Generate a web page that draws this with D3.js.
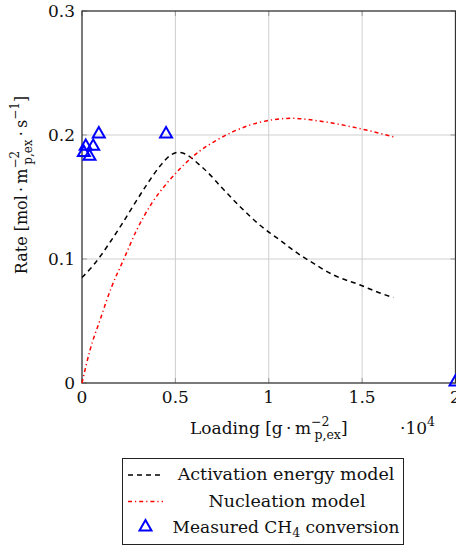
<!DOCTYPE html>
<html>
<head>
<meta charset="utf-8">
<script src="https://cdn.jsdelivr.net/npm/d3@7"></script>
<style>
  body { margin: 0; background: #fff; }
  text { font-family: "DejaVu Serif", serif; fill: #111; }
</style>
</head>
<body>
<script>
// loading in units of 1e4 g/m^2, rate in mol/(m^2 s)
var activationX = [0, 0.061, 0.097, 0.15, 0.213, 0.275, 0.347, 0.418, 0.472, 0.517, 0.651, 0.758, 0.848, 0.955, 1.062, 1.17, 1.223, 1.348, 1.49, 1.6, 1.667];
var activationY = [0.085, 0.095, 0.102, 0.1135, 0.128, 0.143, 0.16, 0.175, 0.1835, 0.186, 0.173, 0.156, 0.142, 0.127, 0.115, 0.103, 0.098, 0.087, 0.079, 0.0723, 0.069];

var nucleationX = [0, 0.043, 0.097, 0.159, 0.222, 0.293, 0.374, 0.454, 0.526, 0.63, 0.723, 0.9, 1.13, 1.26, 1.44, 1.667];
var nucleationY = [0, 0.0266, 0.051, 0.0777, 0.0992, 0.1234, 0.145, 0.161, 0.173, 0.187, 0.196, 0.208, 0.2135, 0.2115, 0.2067, 0.1986];

var measuredX = [0.01, 0.02, 0.04, 0.06, 0.09, 0.45, 2.0];
var measuredY = [0.185, 0.19, 0.182, 0.19, 0.2, 0.2, 0.0];

var xTicks = [0, 0.5, 1, 1.5, 2];
var xTickLabels = ["0", "0.5", "1", "1.5", "2"];
var yTicks = [0, 0.1, 0.2, 0.3];
var yTickLabels = ["0", "0.1", "0.2", "0.3"];

var legendLabels = ["Activation energy model", "Nucleation model", "Measured CH4 conversion"];

var width = 456, height = 548;
var margin = {top: 11, left: 82, right: 1, bottom: 165};

var svg = d3.select("body").append("svg")
    .attr("width", width).attr("height", height);

var x = d3.scaleLinear().domain([0, 2]).range([margin.left, 455.5]);
var y = d3.scaleLinear().domain([0, 0.3]).range([383, margin.top]);

// grid
svg.append("g").selectAll("line").data(xTicks.slice(1, -1))
  .enter().append("line")
    .attr("x1", function(d){ return x(d); }).attr("x2", function(d){ return x(d); })
    .attr("y1", y(0)).attr("y2", y(0.3))
    .attr("stroke", "#cfcfcf").attr("stroke-width", 1);
svg.append("g").selectAll("line").data(yTicks.slice(1, -1))
  .enter().append("line")
    .attr("y1", function(d){ return y(d); }).attr("y2", function(d){ return y(d); })
    .attr("x1", x(0)).attr("x2", x(2))
    .attr("stroke", "#cfcfcf").attr("stroke-width", 1);

// tick marks (inside, pgfplots style)
var xt = svg.append("g");
xTicks.forEach(function(d){
  xt.append("line").attr("x1", x(d)).attr("x2", x(d)).attr("y1", y(0)).attr("y2", y(0) - 5)
    .attr("stroke", "#999").attr("stroke-width", 1);
  xt.append("line").attr("x1", x(d)).attr("x2", x(d)).attr("y1", y(0.3)).attr("y2", y(0.3) + 5)
    .attr("stroke", "#999").attr("stroke-width", 1);
});
yTicks.forEach(function(d){
  xt.append("line").attr("y1", y(d)).attr("y2", y(d)).attr("x1", x(0)).attr("x2", x(0) + 5)
    .attr("stroke", "#999").attr("stroke-width", 1);
  xt.append("line").attr("y1", y(d)).attr("y2", y(d)).attr("x1", x(2)).attr("x2", x(2) - 5)
    .attr("stroke", "#999").attr("stroke-width", 1);
});

// frame
svg.append("rect")
  .attr("x", x(0)).attr("y", y(0.3))
  .attr("width", x(2) - x(0)).attr("height", y(0) - y(0.3))
  .attr("fill", "none").attr("stroke", "#333").attr("stroke-width", 1.3);

// tick labels
svg.append("g").selectAll("text").data(xTicks)
  .enter().append("text")
    .attr("x", function(d){ return x(d); }).attr("y", 403)
    .attr("text-anchor", "middle").attr("font-size", 17)
    .text(function(d, i){ return xTickLabels[i]; });
svg.append("g").selectAll("text").data(yTicks)
  .enter().append("text")
    .attr("x", 75).attr("y", function(d){ return y(d) + 6; })
    .attr("text-anchor", "end").attr("font-size", 17)
    .text(function(d, i){ return yTickLabels[i]; });

// curves
var line = d3.line().curve(d3.curveMonotoneX);
var actPts = activationX.map(function(d, i){ return [x(d), y(activationY[i])]; });
var nucPts = nucleationX.map(function(d, i){ return [x(d), y(nucleationY[i])]; });

svg.append("path").attr("d", line(actPts))
  .attr("fill", "none").attr("stroke", "#000").attr("stroke-width", 1.5)
  .attr("stroke-dasharray", "5,4");
svg.append("path").attr("d", line(nucPts))
  .attr("fill", "none").attr("stroke", "#f00").attr("stroke-width", 1.5)
  .attr("stroke-dasharray", "4,3,1.2,3");

// markers
var tri = d3.symbol().type(d3.symbolTriangle).size(62);
svg.append("g").selectAll("path").data(measuredX)
  .enter().append("path")
    .attr("d", tri)
    .attr("transform", function(d, i){ return "translate(" + x(d) + "," + (y(measuredY[i]) - 1) + ")"; })
    .attr("fill", "none").attr("stroke", "#00f").attr("stroke-width", 2);

// axis labels
var xl = svg.append("text").attr("x", 190).attr("y", 434).attr("font-size", 17);
xl.append("tspan").text("Loading [g\u2009\u00b7\u2009m");
xl.append("tspan").attr("font-size", 12.5).attr("dy", -8).text("\u22122");
xl.append("tspan").attr("font-size", 12.5).attr("dx", -15).attr("dy", 13).text("p,ex");
xl.append("tspan").attr("dy", -5).text("]");

var sc = svg.append("text").attr("x", 400).attr("y", 434).attr("font-size", 17);
sc.append("tspan").text("\u00b710");
sc.append("tspan").attr("font-size", 12.5).attr("dy", -8).text("4");

var yl = svg.append("text")
  .attr("transform", "translate(27,185) rotate(-90)")
  .attr("text-anchor", "middle").attr("font-size", 16);
yl.append("tspan").text("Rate [mol\u2009\u00b7\u2009m");
yl.append("tspan").attr("font-size", 12).attr("dy", -8).text("\u22122");
yl.append("tspan").attr("font-size", 12).attr("dx", -14).attr("dy", 13).text("p,ex");
yl.append("tspan").attr("dy", -5).text("\u2009\u00b7\u2009s");
yl.append("tspan").attr("font-size", 12).attr("dy", -8).text("\u22121");
yl.append("tspan").attr("dy", 8).text("]");

// legend
var lg = svg.append("g");
lg.append("rect").attr("x", 122.5).attr("y", 458.5).attr("width", 281).attr("height", 86)
  .attr("fill", "#fff").attr("stroke", "#222").attr("stroke-width", 1);
var rows = [475, 501.5, 528];
lg.append("line").attr("x1", 128).attr("x2", 163).attr("y1", rows[0]).attr("y2", rows[0])
  .attr("stroke", "#000").attr("stroke-width", 1.5).attr("stroke-dasharray", "5,4");
lg.append("line").attr("x1", 128).attr("x2", 163).attr("y1", rows[1]).attr("y2", rows[1])
  .attr("stroke", "#f00").attr("stroke-width", 1.5).attr("stroke-dasharray", "4,3,1.2,3");
lg.append("path").attr("d", tri)
  .attr("transform", "translate(145.5," + (rows[2] - 1) + ")")
  .attr("fill", "none").attr("stroke", "#00f").attr("stroke-width", 2);

lg.append("text").attr("x", 286).attr("y", rows[0] + 5).attr("text-anchor", "middle")
  .attr("font-size", 17.5).text(legendLabels[0]);
lg.append("text").attr("x", 287).attr("y", rows[1] + 5).attr("text-anchor", "middle")
  .attr("font-size", 17.5).text(legendLabels[1]);
var m = lg.append("text").attr("x", 286).attr("y", rows[2] + 5).attr("text-anchor", "middle")
  .attr("font-size", 17);
m.append("tspan").text("Measured CH");
m.append("tspan").attr("font-size", 12.5).attr("dy", 4).text("4");
m.append("tspan").attr("dy", -4).text(" conversion");
</script>
</body>
</html>
